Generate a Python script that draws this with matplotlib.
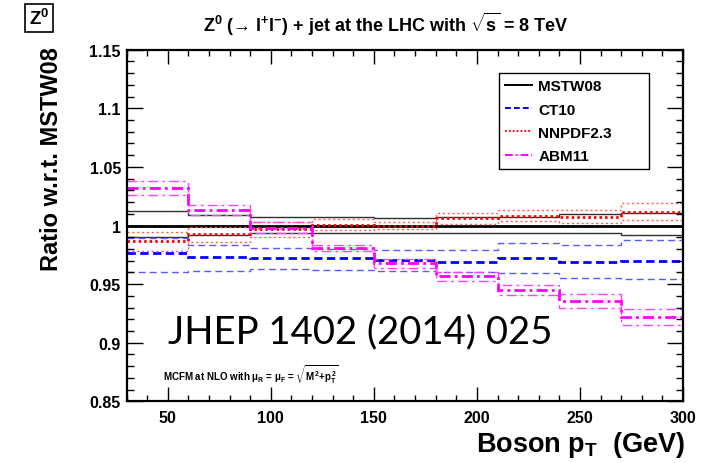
import matplotlib
matplotlib.use("Agg")
import matplotlib.pyplot as plt
from matplotlib.lines import Line2D
from matplotlib.ticker import MultipleLocator, FuncFormatter

plt.rcParams['font.family'] = ['Liberation Sans', 'DejaVu Sans']
plt.rcParams['font.weight'] = 'bold'
plt.rcParams['mathtext.fontset'] = 'custom'
plt.rcParams['mathtext.rm'] = 'Liberation Sans:bold'
plt.rcParams['mathtext.it'] = 'Liberation Sans:bold'
plt.rcParams['mathtext.bf'] = 'Liberation Sans:bold'

# ---- data ----
edges = [30, 60, 90, 120, 150, 180, 210, 240, 270, 300]

mstw_c = [1.0, 1.0, 1.0, 1.0, 1.0, 1.0, 1.0, 1.0, 1.0]
mstw_up = [1.012, 1.009, 1.007, 1.007, 1.006, 1.007, 1.0075, 1.0095, 1.011]
mstw_dn = [0.9905, 0.992, 0.994, 0.994, 0.994, 0.994, 0.994, 0.9935, 0.992]

ct10_c = [0.9765, 0.9734, 0.972, 0.972, 0.9706, 0.969, 0.9723, 0.969, 0.970]
ct10_up = [0.9893, 0.9834, 0.9805, 0.980, 0.979, 0.9794, 0.9848, 0.9836, 0.9876]
ct10_dn = [0.9603, 0.9614, 0.9629, 0.9623, 0.9612, 0.9606, 0.9597, 0.9552, 0.9544]

nnpdf_c = [0.9865, 0.993, 0.997, 1.0007, 1.000, 1.006, 1.0084, 1.0075, 1.0113]
nnpdf_up = [0.9942, 0.9985, 1.003, 1.0055, 1.0027, 1.0107, 1.0135, 1.0132, 1.0189]
nnpdf_dn = [0.9785, 0.986, 0.9905, 0.996, 0.997, 1.0013, 1.0036, 1.0019, 1.005]

abm_c = [1.032, 1.0135, 0.998, 0.981, 0.9677, 0.957, 0.9452, 0.9353, 0.9217]
abm_up = [1.0382, 1.0178, 1.003, 0.9836, 0.9714, 0.9606, 0.9495, 0.9416, 0.9288]
abm_dn = [1.0258, 1.0092, 0.994, 0.978, 0.9637, 0.953, 0.9407, 0.9296, 0.9151]

labels = ['MSTW08', 'CT10', 'NNPDF2.3', 'ABM11']
yticks = [0.85, 0.9, 0.95, 1.0, 1.05, 1.1, 1.15]
xticks = [50, 100, 150, 200, 250, 300]

# ---- styles ----
central_styles = [
    dict(color='black', ls='-'),
    dict(color='#0000ff', ls=(0, (3, 1.6))),
    dict(color='#ff0000', ls=(0, (0.9, 1.1))),
    dict(color='#ff00ff', ls=(0, (4, 1.5, 1, 1.5))),
]
band_styles = [
    dict(color='#303030', ls='-'),
    dict(color='#5a5aff', ls=(0, (5, 3))),
    dict(color='#ff5a5a', ls=(0, (1.5, 2))),
    dict(color='#ff40ff', ls=(0, (7, 3, 2, 3))),
]
series = [
    (mstw_c, mstw_up, mstw_dn),
    (ct10_c, ct10_up, ct10_dn),
    (nnpdf_c, nnpdf_up, nnpdf_dn),
    (abm_c, abm_up, abm_dn),
]

fig = plt.figure(figsize=(7.03, 4.64), dpi=100)
ax = fig.add_axes([126.5 / 703, 1 - 402.3 / 464, (683 - 126.5) / 703, (402.3 - 50.7) / 464])

for (c, up, dn), cs, bs in zip(series, central_styles, band_styles):
    for band in (up, dn):
        ax.stairs(band, edges, baseline=None, color=bs['color'], linestyle=bs['ls'], lw=1.0)
    ax.stairs(c, edges, baseline=None, color=cs['color'], linestyle=cs['ls'], lw=2.0)

ax.set_xlim(30, 300)
ax.set_ylim(0.85, 1.15)
ax.set_xticks(xticks)
ax.set_yticks(yticks)
ax.xaxis.set_minor_locator(MultipleLocator(10))
ax.yaxis.set_minor_locator(MultipleLocator(0.01))
ax.yaxis.set_major_formatter(FuncFormatter(lambda v, p: '%g' % round(v, 2)))
ax.tick_params(which='both', direction='in', top=True, right=True, width=1.0)
ax.tick_params(axis='x', which='major', length=10, pad=6, labelsize=11.5)
ax.tick_params(axis='x', which='minor', length=4.5)
ax.tick_params(axis='y', which='major', length=11.5, pad=4, labelsize=11.5)
ax.tick_params(axis='y', which='minor', length=5.2)
for lab in ax.get_xticklabels() + ax.get_yticklabels():
    lab.set_fontweight('bold')
for sp in ax.spines.values():
    sp.set_linewidth(1.6)

# legend
handles = [Line2D([], [], color=cs['color'], linestyle=cs['ls'], lw=1.4) for cs in central_styles]
leg = ax.legend(handles, labels, loc='upper left',
                bbox_to_anchor=(499 / 703, 1 - 74 / 464 - 0.01, 150 / 703, 0.01),
                bbox_transform=fig.transFigure, mode='expand',
                prop=dict(size=11, weight='bold'), handlelength=1.75, handletextpad=0.4,
                borderpad=0.42, labelspacing=0.6, fancybox=False, framealpha=1,
                edgecolor='black', borderaxespad=0)
leg.get_frame().set_linewidth(1.0)

# texts
fig.text(52 / 703, 1 - 47 / 464, 'Ratio w.r.t. MSTW08', rotation=90, ha='center', va='top',
         fontsize=17, fontweight='bold')
fig.text(685 / 703, 1 - 452 / 464, r'Boson p$_{\mathrm{T}}$  (GeV)', ha='right', va='baseline',
         fontsize=19.5, fontweight='bold')
fig.text(386 / 703, 1 - 31.5 / 464, r'Z$^0$ (→ l$^{+}$l$^{-}$) + jet at the LHC with $\sqrt{s}$ = 8 TeV',
         ha='center', va='baseline', fontsize=13, fontweight='bold')
fig.text(39 / 703, 1 - 19 / 464, r'Z$^0$', ha='center', va='center', fontsize=13.5, fontweight='bold',
         bbox=dict(boxstyle='square,pad=0.2', fc='white', ec='black', lw=1.2))
fig.text(163 / 703, 1 - 381 / 464, r'MCFM at NLO with $\mu_{R}$ = $\mu_{F}$ = $\sqrt{M^2\!+\!p_{T}^2}$',
         ha='left', va='baseline', fontsize=7.0, fontweight='bold')
fig.text(168 / 703, 1 - 343 / 464, 'JHEP 1402 (2014) 025', ha='left', va='baseline',
         fontsize=27.5, fontweight='normal', family=['Lato', 'DejaVu Sans'])

fig.savefig('out.png', dpi=100)
